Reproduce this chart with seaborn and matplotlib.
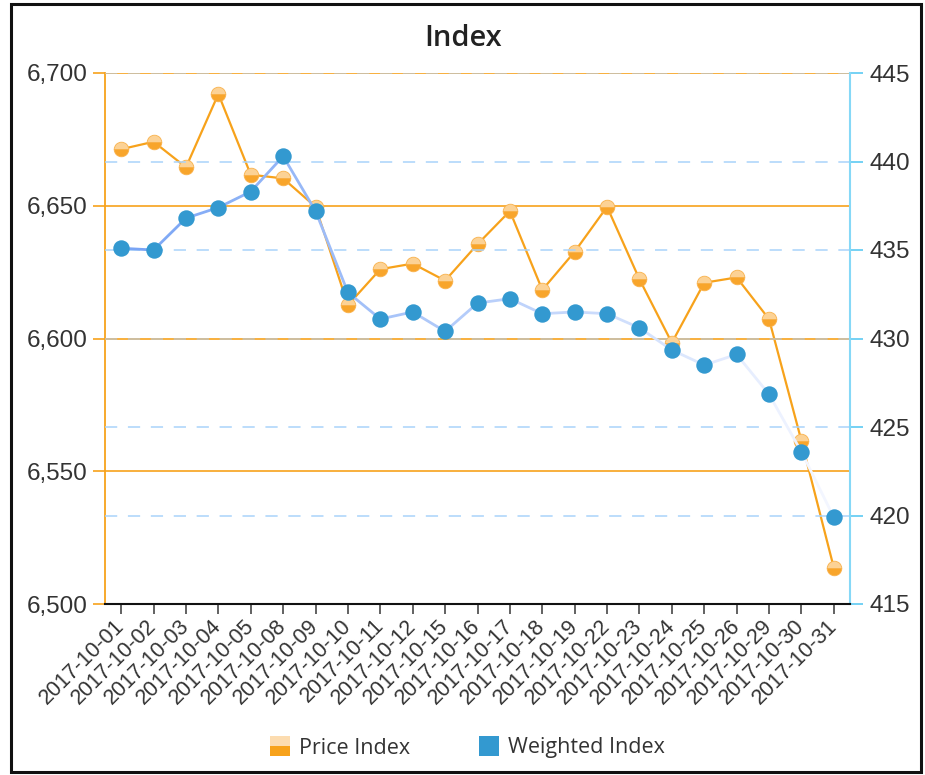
import numpy as np
import pandas as pd
import matplotlib
matplotlib.use("Agg")
import matplotlib.pyplot as plt
import matplotlib.colors as mcolors
from matplotlib.lines import Line2D
from matplotlib.patches import Rectangle
from matplotlib.ticker import FuncFormatter
from matplotlib.transforms import ScaledTranslation
import seaborn as sns

# ---------------- data ----------------
dates = ['2017-10-01', '2017-10-02', '2017-10-03', '2017-10-04', '2017-10-05',
         '2017-10-08', '2017-10-09', '2017-10-10', '2017-10-11', '2017-10-12',
         '2017-10-15', '2017-10-16', '2017-10-17', '2017-10-18', '2017-10-19',
         '2017-10-22', '2017-10-23', '2017-10-24', '2017-10-25', '2017-10-26',
         '2017-10-29', '2017-10-30', '2017-10-31']
price_index = [6671.3, 6674.1, 6664.5, 6692.1, 6661.7, 6660.3, 6649.6, 6612.6,
               6626.1, 6628.2, 6621.8, 6635.5, 6648.0, 6618.3, 6632.7, 6649.6,
               6622.3, 6598.4, 6621.0, 6623.0, 6607.3, 6561.5, 6513.7]
weighted_index = [435.1, 435.0, 436.8, 437.4, 438.3, 440.3, 437.2, 432.6,
                  431.1, 431.5, 430.4, 432.0, 432.25, 431.4, 431.5, 431.4,
                  430.6, 429.35, 428.5, 429.1, 426.85, 423.6, 419.9]
left_ticks = [6500, 6550, 6600, 6650, 6700]
right_ticks = [415, 420, 425, 430, 435, 440, 445]
title = "Index"
series_names = ["Price Index", "Weighted Index"]

df = pd.DataFrame({"pos": np.arange(len(dates)), "date": dates,
                   "price": price_index, "weighted": weighted_index})

# ---------------- style ----------------
sns.set_style("white")
plt.rcParams['font.family'] = ['Liberation Sans', 'DejaVu Sans']

ORANGE = '#f7a21b'
ORANGE_LIGHT = '#fcd295'
ORANGE_DARK = '#f8a52b'
BLUE = '#3399d0'
SPINE_BLUE = '#86d8f7'
TICK_BLUE = '#5cc9f2'
GRID_BLUE = '#a9d3fa'
TEXT = '#333333'

W, H = 925, 775
fig = plt.figure(figsize=(W / 100, H / 100), dpi=100)
ax = fig.add_axes([105 / W, 1 - 604 / H, (850 - 105) / W, (604 - 73) / H])
ax2 = ax.twinx()

# ---------- left axis (Price Index) ----------
sns.lineplot(data=df, x="pos", y="price", ax=ax, color=ORANGE, linewidth=1.6,
             marker='o', markersize=10.5, fillstyle='top',
             markerfacecolor=ORANGE_LIGHT, markerfacecoloralt=ORANGE_DARK,
             markeredgewidth=0.6, markeredgecolor='#f9b24c',
             legend=False, zorder=3)
ax.set_ylim(left_ticks[0], left_ticks[-1])
ax.set_yticks(left_ticks)
ax.yaxis.set_major_formatter(FuncFormatter(lambda v, p: f"{v:,.0f}"))
ax.set_xlim(-0.5, len(dates) - 0.5)
ax.set_xticks(df["pos"])
ax.set_xticklabels(dates, rotation=45, ha='right', va='center',
                   rotation_mode='anchor', fontsize=15.5, color=TEXT)
shift = ScaledTranslation(-5 / 72, -8 / 72, fig.dpi_scale_trans)
for lab in ax.get_xticklabels():
    lab.set_transform(lab.get_transform() + shift)
ax.set_xlabel("")
ax.set_ylabel("")
ax.grid(axis='y', color=ORANGE, linewidth=1.2, linestyle='-')
ax.grid(axis='x', visible=False)
for val, gl in zip(left_ticks, ax.get_ygridlines()):
    if val == left_ticks[0]:
        gl.set_visible(False)
ax.tick_params(axis='y', which='major', left=True, length=8.5, width=1.2,
               color=ORANGE, labelsize=17.5, labelcolor=TEXT, pad=4)
ax.tick_params(axis='x', which='major', bottom=True, length=7.5, width=1.3,
               color='#555555', pad=6)
for s in ['top', 'right', 'bottom']:
    ax.spines[s].set_visible(False)
ax.spines['left'].set_color(ORANGE)
ax.spines['left'].set_linewidth(1.3)

# ---------- right axis (Weighted Index) ----------
start = np.array(mcolors.to_rgb('#7aa5f5'))
end = np.array(mcolors.to_rgb('#f3f6ff'))
nseg = len(df) - 1
for i in range(nseg):
    t = i / max(nseg - 1, 1)
    col = start * (1 - t) + end * t
    seg = df.iloc[i:i + 2]
    ax2.plot(seg["pos"], seg["weighted"], color=col, linewidth=2.0,
             solid_capstyle='round', zorder=2)
sns.scatterplot(data=df, x="pos", y="weighted", ax=ax2, color=BLUE, s=140,
                linewidth=0, legend=False, zorder=4)
ax2.set_ylim(right_ticks[0], right_ticks[-1])
ax2.set_yticks(right_ticks)
ax2.set_ylabel("")
ax2.tick_params(axis='y', right=True, length=9, width=1.2, color=TICK_BLUE,
                labelsize=17.5, labelcolor=TEXT, pad=5)
for s in ['top', 'left']:
    ax2.spines[s].set_visible(False)
ax2.spines['right'].set_color(SPINE_BLUE)
ax2.spines['right'].set_linewidth(1.5)
ax2.spines['bottom'].set_color('#111111')
ax2.spines['bottom'].set_linewidth(1.5)
ax2.spines['bottom'].set_zorder(6)

# right-axis dashed gridlines (gray where they lie on an orange line)
ax2.grid(axis='y', linestyle=(0, (8, 7)), linewidth=1.1, color=GRID_BLUE)
l0, l1 = left_ticks[0], left_ticks[-1]
r0, r1 = right_ticks[0], right_ticks[-1]
for val, gl in zip(right_ticks, ax2.get_ygridlines()):
    equiv = l0 + (val - r0) / (r1 - r0) * (l1 - l0)
    if val == right_ticks[0]:
        gl.set_visible(False)
    elif any(abs(equiv - lt) < 1e-6 for lt in left_ticks):
        gl.set_color('#c2c2bc')
ax2.grid(axis='x', visible=False)

# ---------- title ----------
fig.text(463 / W, 1 - 39 / H, title, ha='center', va='center', fontsize=21,
         fontweight='semibold', color='#222222', family=['Open Sans', 'DejaVu Sans'])

# ---------- legend ----------
handles = [
    Line2D([], [], linestyle='', marker='s', markersize=14, fillstyle='top',
           markerfacecolor='#fcdcb0', markerfacecoloralt=ORANGE, markeredgewidth=0),
    Line2D([], [], linestyle='', marker='s', markersize=15, color=BLUE,
           markeredgewidth=0),
]
fig.legend(handles, series_names, loc='center', bbox_to_anchor=(467 / W, 1 - 748 / H),
           ncol=2, frameon=False, handletextpad=0.35, columnspacing=3.2,
           prop={'family': ['Open Sans', 'DejaVu Sans'], 'size': 15.5},
           labelcolor='#333333', handlelength=1.0)

# ---------- outer frame ----------
fig.patches.append(Rectangle((11 / W, 3 / H), (921 - 11) / W, (771 - 3) / H,
                             transform=fig.transFigure, fill=False,
                             edgecolor='#111111', linewidth=2.2))

fig.savefig("out.png", dpi=100)
